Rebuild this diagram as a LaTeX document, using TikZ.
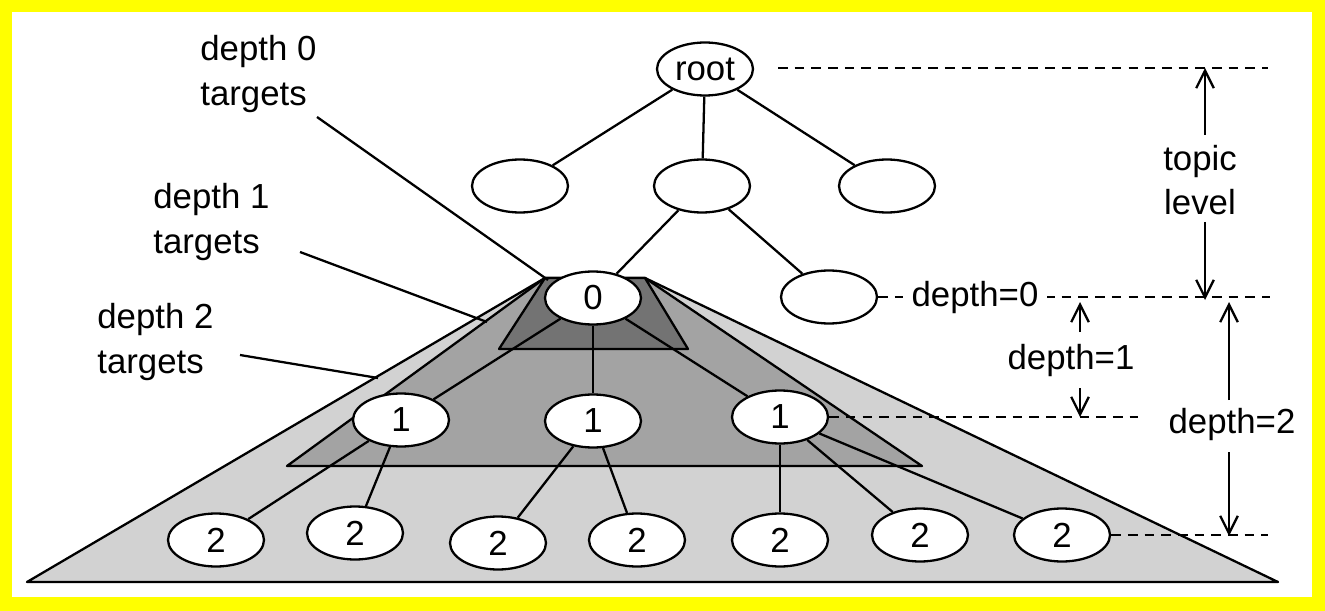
\documentclass[tikz,border=0pt]{standalone}
\usepackage{fontspec}
\setmainfont{Liberation Sans}
\usetikzlibrary{arrows.meta,shapes.geometric}
\definecolor{frameyellow}{RGB}{255,255,0}
\definecolor{lg}{RGB}{210,210,210}
\definecolor{mg}{RGB}{163,163,163}
\definecolor{dg}{RGB}{115,115,115}
\newcommand\fz{\fontsize{19.8}{25.5}\selectfont}
\tikzset{
 tn/.style={ellipse,draw,fill=white,line width=1.3pt,inner sep=0pt,minimum width=1.92cm,minimum height=1.06cm,font=\fz},
 lbl/.style={font=\fz,inner sep=0pt},
 ln/.style={line width=1.3pt},
 dsh/.style={line width=1.3pt,dash pattern=on 5.5pt off 4pt},
 arr/.style={line width=1.3pt,-{Straight Barb[length=10pt,width=10pt,line width=1.3pt]}},
 tri/.style={draw=black,line width=1.3pt,line join=round},
}
\begin{document}
\begin{tikzpicture}[x=0.02cm,y=-0.02cm]
\useasboundingbox (0,0) rectangle (1325,611);
\fill[frameyellow] (0,0) rectangle (1325,611);
\fill[white] (12,12) rectangle (1312,597);
% target regions
\filldraw[tri,fill=lg] (545,278) -- (645,278) -- (1278,582) -- (27,582) -- cycle;
\filldraw[tri,fill=mg] (545,278) -- (645,278) -- (922,466) -- (287,466) -- cycle;
\filldraw[tri,fill=dg] (545,278) -- (645,278) -- (688,349) -- (499,349) -- cycle;
% tree nodes
\node[tn] (root) at (705,69) {root};
\node[tn] (ta) at (520,186) {};
\node[tn] (tb) at (702,186) {};
\node[tn] (tc) at (887,186) {};
\node[tn] (z) at (593,298) {0};
\node[tn] (rb) at (829,297) {};
\node[tn] (oa) at (401,420) {1};
\node[tn] (ob) at (593,421) {1};
\node[tn] (oc) at (780,417) {1};
\node[tn] (wa) at (216,540) {2};
\node[tn] (wb) at (355,533) {2};
\node[tn] (wc) at (498,543) {2};
\node[tn] (wd) at (637,540) {2};
\node[tn] (we) at (780,540) {2};
\node[tn] (wf) at (920,535) {2};
\node[tn] (wg) at (1062,535) {2};
% tree edges
\draw[ln] (root) -- (ta);
\draw[ln] (root) -- (tb);
\draw[ln] (root) -- (tc);
\draw[ln] (tb) -- (z);
\draw[ln] (tb) -- (rb);
\draw[ln] (z) -- (oa);
\draw[ln] (z) -- (ob);
\draw[ln] (z) -- (oc);
\draw[ln] (oa) -- (wa);
\draw[ln] (oa) -- (wb);
\draw[ln] (ob) -- (wc);
\draw[ln] (ob) -- (wd);
\draw[ln] (oc) -- (we);
\draw[ln] (oc) -- (wf);
\draw[ln] (oc) -- (wg);
% left labels and pointers
\node[lbl,anchor=west,align=left] (t0) at (200,74) {depth 0\\targets};
\node[lbl,anchor=west,align=left] (t1) at (153,222) {depth 1\\targets};
\node[lbl,anchor=west,align=left] (t2) at (97,342) {depth 2\\targets};
\coordinate (p0s) at (317,117);
\coordinate (p0e) at (548,280);
\coordinate (p1s) at (300,252);
\coordinate (p1e) at (487,322);
\coordinate (p2s) at (240,355);
\coordinate (p2e) at (378,378);
\draw[ln] (p0s) -- (p0e);
\draw[ln] (p1s) -- (p1e);
\draw[ln] (p2s) -- (p2e);
% dashed level lines
\coordinate (rs) at (778,68);
\coordinate (re) at (1268,68);
\coordinate (d0e) at (1270,300);
\coordinate (d1e) at (1138,418);
\coordinate (d2e) at (1268,537);
\draw[dsh] (rs) -- (re);
\draw[dsh] (rb.east) -- (rb.east -| d0e);
\draw[dsh] (oc.east) -- (oc.east -| d1e);
\draw[dsh] (wg.east) -- (wg.east -| d2e);
\node[lbl,fill=white,inner sep=5pt] (l0) at (975,298) {depth=0};
% right dimension labels
\node[lbl,align=center] (ltop) at (1200,180) {topic\\level};
\node[lbl] (l1) at (1071,361) {depth=1};
\node[lbl] (l2) at (1232,425) {depth=2};
\coordinate (a1s) at (1205,135);
\coordinate (a1e) at (1205,68);
\coordinate (a2s) at (1205,222);
\coordinate (a2e) at (1205,300);
\coordinate (b1s) at (1080,332);
\coordinate (b1e) at (1080,302);
\coordinate (b2s) at (1080,388);
\coordinate (b2e) at (1080,417);
\coordinate (c1s) at (1229,400);
\coordinate (c1e) at (1229,302);
\coordinate (c2s) at (1229,452);
\coordinate (c2e) at (1229,536);
\draw[arr] (a1s) -- (a1e);
\draw[arr] (a2s) -- (a2e);
\draw[arr] (b1s) -- (b1e);
\draw[arr] (b2s) -- (b2e);
\draw[arr] (c1s) -- (c1e);
\draw[arr] (c2s) -- (c2e);
\end{tikzpicture}
\end{document}
